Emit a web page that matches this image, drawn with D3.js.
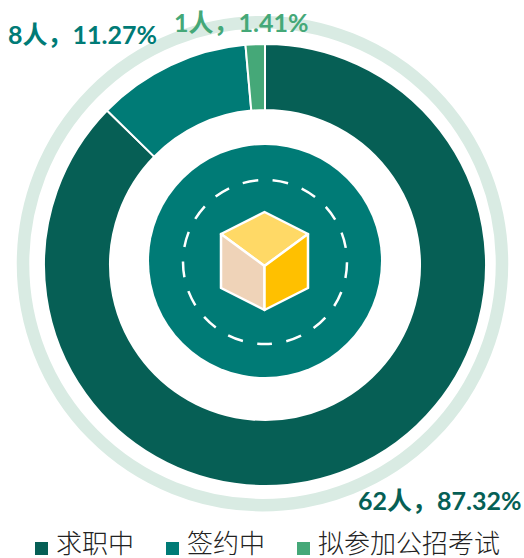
<!DOCTYPE html>
<html>
<head>
<meta charset="utf-8">
<script src="https://cdnjs.cloudflare.com/ajax/libs/d3/7.8.5/d3.min.js"></script>
<style>
  html, body { margin: 0; padding: 0; background: #fff; overflow: hidden; }
  .lbl { font-family: Lato, "Noto Sans CJK SC", sans-serif; font-weight: 700; font-size: 25px; }
  .legend { font-family: Lato, "Noto Sans CJK SC", sans-serif; font-weight: 300; font-size: 26px; fill: #222; }
</style>
</head>
<body>
<div id="chart"></div>
<script>
// data
var categories = ['求职中', '签约中', '拟参加公招考试'];
var counts = [62, 8, 1];
var labels = ['62人，87.32%', '8人，11.27%', '1人，1.41%'];
var colors = ['#065f55', '#007b76', '#45a878'];

var width = 524, height = 558;
var cx = 265, cy = 265;

var svg = d3.select('#chart').append('svg')
    .attr('width', width)
    .attr('height', height)
    .style('display', 'block');

// thin outer ring, slightly taller than wide like the original
svg.append('ellipse')
    .attr('cx', 262.5).attr('cy', 263.7)
    .attr('rx', 239.5).attr('ry', 241.5)
    .attr('fill', 'none')
    .attr('stroke', '#d9ebe3')
    .attr('stroke-width', 12.5);

// donut
var pie = d3.pie().sort(null);
var arc = d3.arc().innerRadius(155).outerRadius(221);

svg.append('g')
    .attr('transform', 'translate(' + cx + ',' + cy + ')')
  .selectAll('path')
    .data(pie(counts))
    .enter().append('path')
    .attr('d', arc)
    .attr('fill', function(d, i) { return colors[i]; })
    .attr('stroke', '#fff')
    .attr('stroke-width', 2);

// centre disc
var cyInner = 261;
svg.append('circle')
    .attr('cx', cx).attr('cy', cyInner)
    .attr('r', 116)
    .attr('fill', colors[1]);

// dashed circle, 17 dashes, one centred at the bottom
var dashR = 82;
var period = 2 * Math.PI * dashR / 17;
svg.append('circle')
    .attr('cx', cx).attr('cy', 262)
    .attr('r', dashR)
    .attr('fill', 'none')
    .attr('stroke', '#fff')
    .attr('stroke-width', 2.5)
    .attr('stroke-dasharray', (period * 0.52) + ' ' + (period * 0.48))
    .attr('stroke-dashoffset', period * 0.26)
    .attr('transform', 'rotate(90 ' + cx + ' 262)');

// cube
var cubeX = 264.5, cubeY = 261, hw = 43.5, rr = 49;
var top_ = [cubeX, cubeY - rr], mid = [cubeX, cubeY + 5],
    lt = [cubeX - hw, cubeY - 27], rt = [cubeX + hw, cubeY - 27],
    lb = [cubeX - hw, cubeY + 27], rb = [cubeX + hw, cubeY + 27],
    bot = [cubeX, cubeY + rr];
var faces = [
  { pts: [top_, rt, mid, lt], fill: '#ffd966' },
  { pts: [lt, mid, bot, lb], fill: '#efd3b8' },
  { pts: [mid, rt, rb, bot], fill: '#ffc000' }
];
svg.append('g').selectAll('polygon')
    .data(faces)
    .enter().append('polygon')
    .attr('points', function(d) { return d.pts.join(' '); })
    .attr('fill', function(d) { return d.fill; })
    .attr('stroke', '#fff')
    .attr('stroke-width', 2.5)
    .attr('stroke-linejoin', 'round');

// value labels
var labelPos = [[358, 510], [8, 44], [174, 32]];
svg.append('g').selectAll('text')
    .data(labels)
    .enter().append('text')
    .attr('class', 'lbl')
    .attr('x', function(d, i) { return labelPos[i][0]; })
    .attr('y', function(d, i) { return labelPos[i][1]; })
    .attr('fill', function(d, i) { return colors[i]; })
    .text(function(d) { return d; });

// legend
var legendX = d3.scalePoint().domain(categories).range([35, 297]);
var legend = svg.append('g').selectAll('g')
    .data(categories)
    .enter().append('g')
    .attr('transform', function(d) { return 'translate(' + legendX(d) + ',0)'; });

legend.append('rect')
    .attr('y', 542)
    .attr('width', 13)
    .attr('height', 13)
    .attr('fill', function(d, i) { return colors[i]; });

legend.append('text')
    .attr('class', 'legend')
    .attr('x', 21)
    .attr('y', 553)
    .text(function(d) { return d; });
</script>
</body>
</html>
